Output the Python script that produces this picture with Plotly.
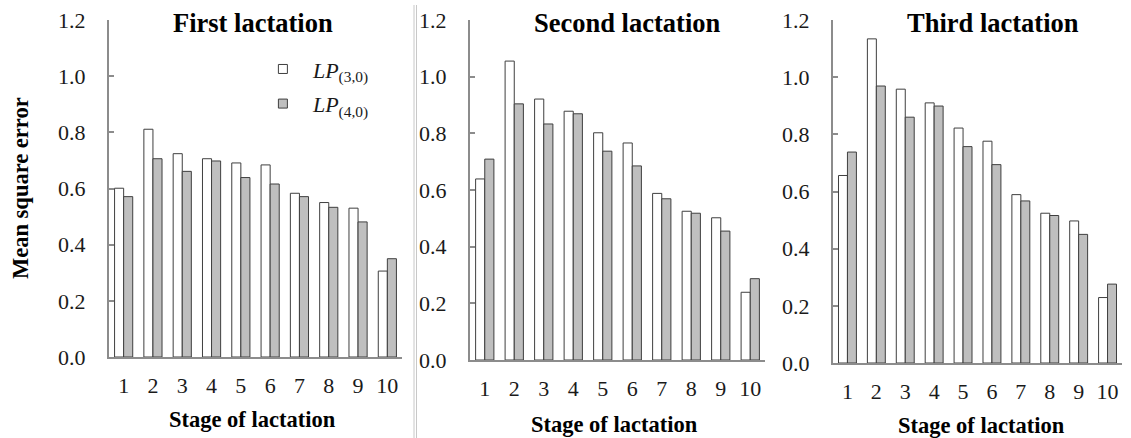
import plotly.graph_objects as go

stages = [str(i) for i in range(1, 11)]

first_lp30 = [0.601, 0.811, 0.724, 0.706, 0.691, 0.684, 0.583, 0.550, 0.530, 0.306]
first_lp40 = [0.571, 0.706, 0.661, 0.698, 0.639, 0.616, 0.571, 0.533, 0.481, 0.350]

second_lp30 = [0.639, 1.055, 0.921, 0.878, 0.802, 0.766, 0.588, 0.525, 0.502, 0.239]
second_lp40 = [0.709, 0.904, 0.833, 0.869, 0.737, 0.685, 0.569, 0.518, 0.455, 0.287]

third_lp30 = [0.656, 1.134, 0.958, 0.910, 0.822, 0.776, 0.589, 0.524, 0.497, 0.229]
third_lp40 = [0.738, 0.969, 0.860, 0.899, 0.757, 0.694, 0.567, 0.516, 0.450, 0.276]

panel_titles = ["First lactation", "Second lactation", "Third lactation"]
series_names = ["<i>LP</i><sub>(3,0)</sub>", "<i>LP</i><sub>(4,0)</sub>"]
y_ticks = [0.0, 0.2, 0.4, 0.6, 0.8, 1.0, 1.2]
x_title = "Stage of lactation"
y_title = "Mean square error"

W, H = 1131, 438
FONT = "Liberation Serif"
WHITE_FILL = "#ffffff"
GRAY_FILL = "#bfbfbf"
EDGE = "#3f3f3f"
AXIS = "#8c8c8c"
TEXT = "#1a1a1a"

panels = [(first_lp30, first_lp40), (second_lp30, second_lp40), (third_lp30, third_lp40)]
fills = [WHITE_FILL, GRAY_FILL]
# pixel geometry of each panel: (x_left, x_right, y_zero, y_top)
geom = [(109, 402, 357, 20), (470, 765, 360, 20), (833, 1122, 363, 20)]
title_x = [253, 628, 993]
xtitle_pos = [(252, 419), (614, 424), (981, 425)]

fig = go.Figure()
for i, series in enumerate(panels):
    ax = "" if i == 0 else str(i + 1)
    for k, vals in enumerate(series):
        fig.add_trace(go.Bar(x=stages, y=vals, name=series_names[k], legendgroup="g%d" % k,
                             marker=dict(color=fills[k], line=dict(color=EDGE, width=1)),
                             xaxis="x" + ax, yaxis="y" + ax, showlegend=False))

# legend entries with small square keys (as in the reference)
for k in range(2):
    fig.add_trace(go.Scatter(x=[None], y=[None], mode="markers", name=series_names[k],
                             legendgroup="g%d" % k, showlegend=True,
                             marker=dict(symbol="square", size=9, color=fills[k],
                                         line=dict(color=EDGE, width=1))))

layout = dict(
    width=W, height=H, margin=dict(l=0, r=0, t=0, b=0, pad=0, autoexpand=False),
    paper_bgcolor="white", plot_bgcolor="white",
    barmode="group", bargap=0.38, bargroupgap=0,
    font=dict(family=FONT, color=TEXT, size=22),
    legend=dict(x=0.2236, y=0.890, xanchor="left", yanchor="top",
                font=dict(family=FONT, size=22, color=TEXT),
                bgcolor="rgba(0,0,0,0)", tracegroupgap=3, itemwidth=50),
    annotations=[], shapes=[],
)

for i, (xl, xr, yz, yt) in enumerate(geom):
    ax = "" if i == 0 else str(i + 1)
    layout["xaxis" + ax] = dict(
        domain=[xl / W, xr / W], anchor="y" + ax, type="category", automargin=False,
        range=[-0.5, 9.5], showline=True, linecolor=AXIS, linewidth=2,
        ticks="", showgrid=False, zeroline=False, ticklabelstandoff=8,
        tickfont=dict(family=FONT, size=22, color=TEXT), fixedrange=True,
    )
    layout["yaxis" + ax] = dict(
        domain=[1 - yz / H, 1 - yt / H], anchor="x" + ax, automargin=False,
        range=[0, 1.2], tickvals=y_ticks, tickformat=".1f",
        showline=True, linecolor=AXIS, linewidth=2,
        ticks="inside", ticklen=5, tickcolor=AXIS, tickwidth=2,
        showgrid=False, zeroline=False, ticklabelstandoff=17,
        tickfont=dict(family=FONT, size=22, color=TEXT), fixedrange=True,
    )
    layout["annotations"].append(dict(
        text="<b>%s</b>" % panel_titles[i], x=title_x[i] / W, y=1 - 23 / H,
        xref="paper", yref="paper", xanchor="center", yanchor="middle",
        showarrow=False, font=dict(family=FONT, size=26.5, color="#000000")))
    layout["annotations"].append(dict(
        text="<b>%s</b>" % x_title, x=xtitle_pos[i][0] / W, y=1 - xtitle_pos[i][1] / H,
        xref="paper", yref="paper", xanchor="center", yanchor="middle",
        showarrow=False, font=dict(family=FONT, size=22.5, color="#000000")))

layout["annotations"].append(dict(
    text="<b>%s</b>" % y_title, x=20 / W, y=1 - 188 / H, textangle=-90,
    xref="paper", yref="paper", xanchor="center", yanchor="middle",
    showarrow=False, font=dict(family=FONT, size=22.5, color="#000000")))

# double separator line between first and second panels
for xs in (414, 416.5):
    layout["shapes"].append(dict(type="line", xref="paper", yref="paper",
                                 x0=xs / W, x1=xs / W, y0=0, y1=1 - 5 / H,
                                 line=dict(color="#c8c8c8", width=1)))

fig.update_layout(**layout)
fig.write_html("out.html")
